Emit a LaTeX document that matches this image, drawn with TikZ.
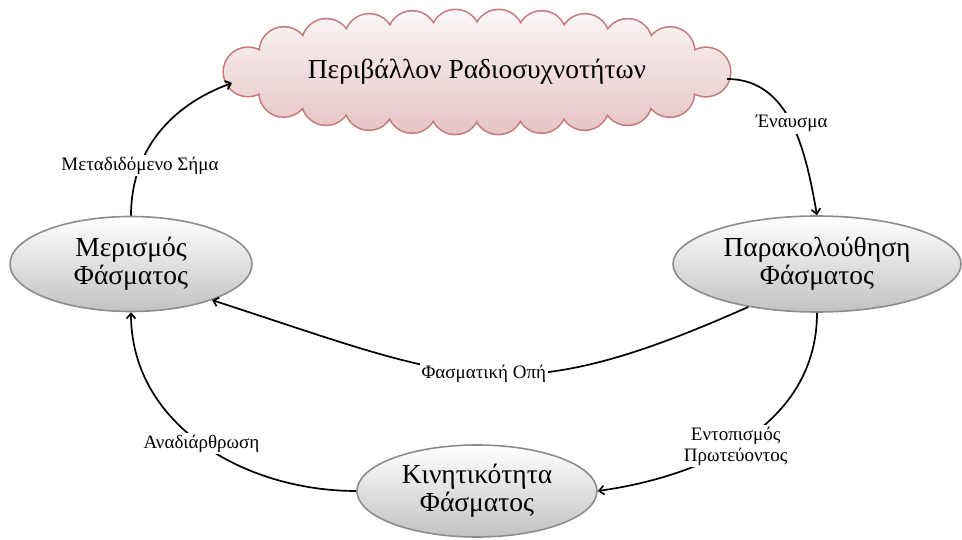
\documentclass[tikz,border=0pt]{standalone}
\usepackage{fontspec}
\setmainfont{Liberation Serif}
\usetikzlibrary{shapes.geometric,arrows.meta,decorations.markings}

\definecolor{cloudline}{RGB}{196,122,122}
\definecolor{cloudtop}{RGB}{251,246,246}
\definecolor{cloudbottom}{RGB}{230,196,196}

\begin{document}
\begin{tikzpicture}[x=1pt,y=1pt,
    % Elliptic states with a grey gradient
    stadio/.style={
        ellipse, draw=black!45, line width=1.6pt,
        top color=white, bottom color=black!24,
        minimum width=242pt, minimum height=95pt, inner sep=0pt,
        align=center, font=\fontsize{27.5}{28}\selectfont
    },
    % Puff centres of the cloud, spread evenly round an ellipse
    puffcentres/.style={
        decorate, decoration={markings,
            mark=between positions 0 and 0.99 step 1/22 with {
                \coordinate (puff\pgfkeysvalueof{/pgf/decoration/mark info/sequence number});}
        }
    },
    synefokeimeno/.style={ellipse, minimum width=506pt, minimum height=124pt,
        font=\fontsize{27.5}{30}\selectfont},
    roi/.style={-{Straight Barb[length=5pt,width=9pt]}, line width=1.7pt},
    etiketa/.style={fill=white, inner sep=2pt, align=center,
        font=\fontsize{19}{21}\selectfont}
]
    \useasboundingbox (0,0) rectangle (962,-540);

    % Cloud: thick outline of all puffs, then the shaded fill over it
    \path[puffcentres] (477,-72) ellipse [x radius=229, y radius=38];
    \draw[cloudline, line width=3.2pt] \foreach \k in {1,...,22} {(puff\k) circle (24)};
    \shade[top color=cloudtop, bottom color=cloudbottom]
        (477,-72) ellipse [x radius=229, y radius=38]
        \foreach \k in {1,...,22} {(puff\k) circle (24)};
    \node[synefokeimeno] (perivallon) at (477,-72) {Περιβάλλον Ραδιοσυχνοτήτων};
    \coordinate (perivallon-in) at (232,-83);
    \coordinate (perivallon-out) at (727,-79);

    % Nodes
    \node[stadio] (merismos) at (131,-264) {Μερισμός\\Φάσματος};
    \node[stadio, minimum width=288pt, minimum height=96pt] (parakolouthisi) at (817,-264) {Παρακολούθηση\\Φάσματος};
    \node[stadio, minimum width=240pt, minimum height=92pt] (kinitikotita) at (477,-491) {Κινητικότητα\\Φάσματος};

    % Arrows around the cycle
    \draw[roi] (merismos.north) to[out=90, in=200]
        node[etiketa, pos=0.28] {Μεταδιδόμενο Σήμα} (perivallon-in);
    \draw[roi] (perivallon-out) to[out=0, in=100]
        node[etiketa, pos=0.5] {Έναυσμα} (parakolouthisi.north);
    \draw[roi] (parakolouthisi.212) to[out=204, in=-18, looseness=1.25]
        node[etiketa, pos=0.5] {Φασματική Οπή} (merismos.336);
    \draw[roi] (parakolouthisi.south) to[out=-90, in=8]
        node[etiketa, pos=0.55] {Εντοπισμός\\Πρωτεύοντος} (kinitikotita.east);
    \draw[roi] (kinitikotita.west) to[out=180, in=-90]
        node[etiketa, pos=0.5] {Αναδιάρθρωση} (merismos.south);
\end{tikzpicture}
\end{document}
